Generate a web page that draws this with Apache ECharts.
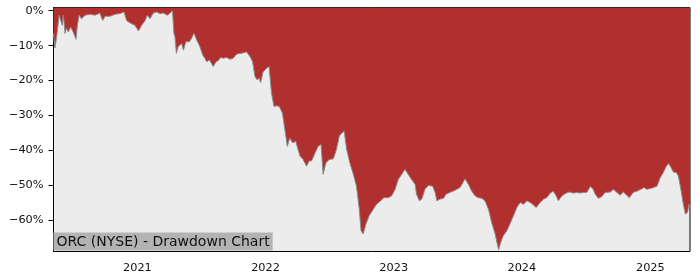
<!DOCTYPE html>
<html>
<head>
<meta charset="utf-8">
<script src="https://cdn.jsdelivr.net/npm/echarts@6/dist/echarts.min.js"></script>
<style>
html,body{margin:0;padding:0;background:#fff;}
#chart{width:700px;height:280px;}
</style>
</head>
<body>
<div id="chart"></div>
<script>
const chartTitle = 'ORC (NYSE) - Drawdown Chart';
const yearTicks = ['2021', '2022', '2023', '2024', '2025'];
const yTicks = [0, -10, -20, -30, -40, -50, -60];
const dates = [
'2020-05-07','2020-05-11','2020-05-16','2020-05-23','2020-05-28','2020-06-01','2020-06-04','2020-06-09','2020-06-13','2020-06-18',
'2020-06-25','2020-07-02','2020-07-10','2020-07-14','2020-07-19','2020-07-26','2020-08-05','2020-08-19','2020-09-02','2020-09-16',
'2020-09-24','2020-10-01','2020-10-15','2020-10-29','2020-11-12','2020-11-24','2020-12-01','2020-12-11','2020-12-25',
'2021-01-04','2021-01-13','2021-01-23','2021-01-29','2021-02-06','2021-02-15','2021-02-25','2021-03-06','2021-03-16','2021-03-27',
'2021-04-04','2021-04-11','2021-04-15','2021-04-18','2021-04-22','2021-04-27','2021-05-07','2021-05-12','2021-05-19','2021-05-29',
'2021-06-04','2021-06-11','2021-06-19','2021-06-28','2021-07-06','2021-07-12','2021-07-17','2021-07-25','2021-07-31','2021-08-05',
'2021-08-13','2021-08-19','2021-08-26','2021-09-02','2021-09-12','2021-09-22','2021-10-01','2021-10-11','2021-10-25','2021-11-08',
'2021-11-18','2021-11-25','2021-12-02','2021-12-08','2021-12-14','2021-12-18','2021-12-25',
'2022-01-04','2022-01-11','2022-01-18','2022-01-25','2022-02-01','2022-02-09','2022-02-18','2022-02-25','2022-03-04','2022-03-11',
'2022-03-19','2022-03-28','2022-04-09','2022-04-18','2022-04-28','2022-05-05','2022-05-12','2022-05-22','2022-05-31','2022-06-08',
'2022-06-14','2022-06-22','2022-07-01','2022-07-13','2022-07-22','2022-07-30','2022-08-06','2022-08-13','2022-08-20','2022-08-29',
'2022-09-08','2022-09-17','2022-09-25','2022-09-30','2022-10-06','2022-10-14','2022-10-23','2022-11-04','2022-11-13','2022-11-25',
'2022-12-04','2022-12-16','2022-12-26',
'2023-01-05','2023-01-14','2023-01-24','2023-02-02','2023-02-11','2023-02-21','2023-03-03','2023-03-07','2023-03-15','2023-03-22',
'2023-03-31','2023-04-10','2023-04-22','2023-04-29','2023-05-04','2023-05-13','2023-05-23','2023-05-30','2023-06-10','2023-06-20',
'2023-06-30','2023-07-09','2023-07-17','2023-07-23','2023-08-02','2023-08-11','2023-08-21','2023-08-30','2023-09-09','2023-09-18',
'2023-09-28','2023-10-07','2023-10-17','2023-10-23','2023-10-27','2023-11-02','2023-11-09','2023-11-19','2023-11-28','2023-12-08',
'2023-12-18','2023-12-27',
'2024-01-06','2024-01-15','2024-01-25','2024-02-03','2024-02-11','2024-02-22','2024-03-03','2024-03-12','2024-03-22','2024-03-30',
'2024-04-08','2024-04-14','2024-04-24','2024-05-06','2024-05-16','2024-05-27','2024-06-06','2024-06-15','2024-06-25','2024-07-04',
'2024-07-14','2024-07-22','2024-07-28','2024-08-06','2024-08-16','2024-08-25','2024-09-09','2024-09-18','2024-09-28','2024-10-07',
'2024-10-16','2024-10-26','2024-11-02','2024-11-13','2024-11-25','2024-12-05','2024-12-14','2024-12-22',
'2025-01-01','2025-01-10','2025-01-20','2025-01-29','2025-02-07','2025-02-15','2025-02-22','2025-03-01','2025-03-08','2025-03-16',
'2025-03-22','2025-03-29','2025-04-05','2025-04-11','2025-04-17','2025-04-21','2025-04-24'
];
const drawdown = [
-6.5,-10.7,-7.5,-1.3,-0.85,-4.2,-1.3,-6.5,-5.0,-6.1,
-4.7,-6.1,-8.2,-4.2,-1.3,-2.3,-1.3,-1.05,-1.3,-0.7,
-2.8,-1.6,-1.6,-1.05,-0.85,-0.4,-2.8,-3.5,-4.2,
-5.8,-4.2,-2.8,-1.3,-2.3,-0.7,-0.4,-0.85,-0.7,-1.3,
-0.7,0,-6.5,-7.5,-12.2,-10.3,-9.4,-11.3,-8.9,-8.9,
-8.0,-6.4,-8.4,-10.3,-12.7,-13.6,-14.6,-14.1,-15.1,-16.0,
-14.6,-14.3,-13.4,-13.6,-13.4,-13.9,-13.6,-12.4,-12.2,-11.8,
-13.2,-14.6,-18.9,-19.8,-19.3,-20.6,-17.5,
-16.5,-16.0,-23.6,-27.4,-27.2,-27.4,-29.3,-34.0,-38.8,-36.4,
-37.8,-37.4,-41.6,-42.6,-44.5,-43.0,-43.0,-40.7,-38.8,-38.3,
-46.8,-43.5,-42.6,-42.4,-39.7,-35.9,-35.0,-34.5,-39.7,-43.5,
-46.8,-50.2,-56.8,-62.9,-63.9,-61.0,-58.7,-56.8,-55.4,-54.4,
-53.5,-53.5,-53.0,
-51.1,-48.3,-46.8,-45.4,-46.8,-48.3,-49.7,-52.5,-54.4,-53.9,
-51.1,-50.0,-50.2,-52.0,-54.4,-53.9,-53.7,-52.5,-52.0,-51.6,
-51.1,-50.6,-49.2,-48.1,-49.7,-51.6,-53.0,-53.5,-53.7,-54.4,
-56.8,-60.6,-63.9,-66.7,-68.4,-66.2,-64.4,-63.0,-61.0,-58.7,
-56.3,-54.9,
-55.4,-54.4,-54.9,-55.6,-56.3,-54.9,-53.9,-53.5,-52.2,-51.6,
-53.0,-54.4,-53.0,-52.2,-51.9,-52.2,-52.0,-52.2,-52.0,-52.0,
-50.3,-51.1,-52.5,-53.7,-53.2,-52.0,-51.9,-51.1,-52.0,-52.8,
-51.9,-52.8,-53.5,-52.0,-51.6,-51.1,-50.6,-51.1,
-50.9,-50.6,-50.2,-47.8,-46.3,-44.6,-43.7,-44.9,-46.2,-46.3,
-47.3,-51.1,-55.4,-58.2,-57.7,-55.4,-56.5
];

function toTime(s) {
  const p = s.split('-');
  return Date.UTC(+p[0], +p[1] - 1, +p[2]);
}
const seriesData = dates.map((d, i) => [toTime(d), drawdown[i]]);
const yearStamps = yearTicks.map(y => toTime(y + '-01-01'));
const fontFam = '"DejaVu Sans", sans-serif';

const chart = echarts.init(document.getElementById('chart'), null, {renderer: 'canvas'});
chart.setOption({
  animation: false,
  title: {
    text: chartTitle,
    left: 53.5,
    top: 232.5,
    padding: [3, 3, 1, 3],
    backgroundColor: '#b3b3b3',
    textStyle: {fontFamily: fontFam, fontSize: 14, fontWeight: 'normal', color: '#111'}
  },
  grid: {
    left: 53.5, right: 10, top: 7.5, bottom: 28.5,
    show: true, backgroundColor: '#ececec', borderColor: '#000', borderWidth: 1
  },
  xAxis: {
    type: 'value',
    min: toTime('2020-05-07'),
    max: toTime('2025-04-24'),
    splitLine: {show: false},
    axisLine: {lineStyle: {color: '#000', width: 1}},
    axisTick: {show: true, length: 5, lineStyle: {color: '#000'}, customValues: yearStamps},
    axisLabel: {
      customValues: yearStamps,
      formatter: v => String(new Date(v).getUTCFullYear()),
      fontFamily: fontFam, fontSize: 11.3, color: '#111', margin: 11
    }
  },
  yAxis: {
    type: 'value',
    min: -68.9,
    max: 0.9,
    splitLine: {show: false},
    axisLine: {show: true, lineStyle: {color: '#000', width: 1}},
    axisTick: {show: true, length: 5, lineStyle: {color: '#000'}, customValues: yTicks},
    axisLabel: {
      customValues: yTicks,
      formatter: v => (v < 0 ? '\u2212' + Math.abs(v) : String(v)) + '%',
      fontFamily: fontFam, fontSize: 11.3, color: '#111', margin: 10
    }
  },
  series: [{
    type: 'line',
    data: seriesData,
    showSymbol: false,
    symbol: 'none',
    lineStyle: {color: '#8a8a8a', width: 1},
    areaStyle: {color: '#b03030', opacity: 1, origin: 'end'},
    z: 2
  }]
});
</script>
</body>
</html>
